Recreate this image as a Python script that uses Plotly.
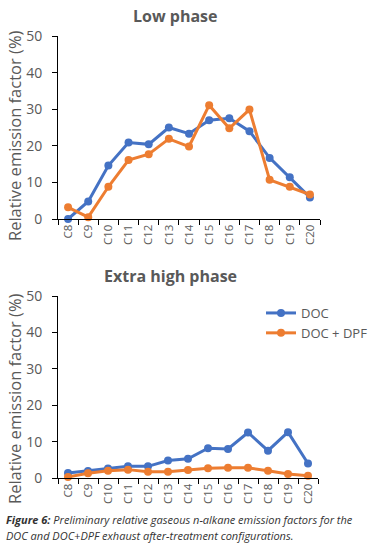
import plotly.graph_objects as go

categories = ["C8", "C9", "C10", "C11", "C12", "C13", "C14", "C15", "C16", "C17", "C18", "C19", "C20"]
low_doc = [0.0, 4.8, 14.6, 20.9, 20.4, 25.0, 23.3, 27.0, 27.5, 24.0, 16.7, 11.4, 5.9]
low_dpf = [3.2, 0.5, 8.8, 16.1, 17.7, 21.9, 19.8, 31.1, 24.8, 29.9, 10.7, 8.8, 6.7]
xh_doc = [1.4, 1.9, 2.6, 3.2, 3.2, 4.8, 5.3, 8.2, 8.0, 12.5, 7.5, 12.6, 4.0]
xh_dpf = [0.3, 1.3, 2.0, 2.3, 1.7, 1.7, 2.2, 2.7, 2.8, 2.8, 2.0, 1.1, 0.6]
y_ticks = [0, 10, 20, 30, 40, 50]

BLUE = "#4472C4"
ORANGE = "#ED7D31"
GREY = "#595959"
FONT = "Open Sans"

W, H = 382, 550

fig = go.Figure()

def add(x_ax, y_ax, vals, name, color, show):
    fig.add_trace(go.Scatter(
        x=categories, y=vals, name=name, mode="lines+markers",
        line=dict(color=color, width=3), marker=dict(color=color, size=8),
        xaxis=x_ax, yaxis=y_ax, showlegend=show, cliponaxis=False,
    ))

add("x", "y", low_doc, "DOC", BLUE, False)
add("x", "y", low_dpf, "DOC + DPF", ORANGE, False)
add("x2", "y2", xh_doc, "DOC", BLUE, True)
add("x2", "y2", xh_dpf, "DOC + DPF", ORANGE, True)

def px_x(p):
    return p / W

def px_y(p):
    return 1 - p / H

xaxis_common = dict(
    type="category", range=[-0.5, 12.5], showgrid=False, showline=True,
    linecolor="#000000", linewidth=1, ticks="outside", tickson="boundaries",
    ticklen=5, tickcolor="#000000", tickangle=-90, automargin=False,
    tickfont=dict(family=FONT, size=11.5, color=GREY), zeroline=False,
)
yaxis_common = dict(
    range=[0, 50], tickvals=y_ticks, showgrid=False, showline=True,
    linecolor="#000000", linewidth=1, ticks="outside", ticklen=5,
    tickcolor="#000000", tickfont=dict(family=FONT, size=14, color=GREY),
    zeroline=False, automargin=False, ticklabelstandoff=7,
)

fig.update_layout(
    width=W, height=H,
    margin=dict(l=0, r=0, t=0, b=0),
    paper_bgcolor="white", plot_bgcolor="white",
    xaxis=dict(domain=[px_x(58), px_x(320)], anchor="y", **xaxis_common),
    yaxis=dict(domain=[px_y(219), px_y(36)], anchor="x", **yaxis_common),
    xaxis2=dict(domain=[px_x(58), px_x(318)], anchor="y2", **xaxis_common),
    yaxis2=dict(domain=[px_y(478), px_y(296)], anchor="x2", **yaxis_common),
    legend=dict(
        x=px_x(261), y=px_y(298), xanchor="left", yanchor="top",
        font=dict(family=FONT, size=13, color=GREY), bgcolor="rgba(0,0,0,0)",
        tracegroupgap=0,
    ),
    showlegend=True,
)

ytitle = "Relative emission factor (%)"
annotations = [
    dict(text="<b>Low phase</b>", x=px_x(175), y=px_y(16), xref="paper", yref="paper",
         showarrow=False, font=dict(family=FONT, size=16, color=GREY), xanchor="center", yanchor="middle"),
    dict(text="<b>Extra high phase</b>", x=px_x(170), y=px_y(276), xref="paper", yref="paper",
         showarrow=False, font=dict(family=FONT, size=16, color=GREY), xanchor="center", yanchor="middle"),
    dict(text=ytitle, x=px_x(14), y=px_y(136), xref="paper", yref="paper", textangle=-90,
         showarrow=False, font=dict(family=FONT, size=16.5, color=GREY), xanchor="center", yanchor="middle"),
    dict(text=ytitle, x=px_x(14), y=px_y(399), xref="paper", yref="paper", textangle=-90,
         showarrow=False, font=dict(family=FONT, size=16.5, color=GREY), xanchor="center", yanchor="middle"),
    dict(text="<b><i>Figure 6:</i></b><i> Preliminary relative gaseous n-alkane emission factors for the</i>",
         x=px_x(4), y=px_y(519), xref="paper", yref="paper", showarrow=False,
         font=dict(family=FONT, size=11, color="#333333"), xanchor="left", yanchor="middle"),
    dict(text="<i>DOC and DOC+DPF exhaust after-treatment configurations.</i>",
         x=px_x(4), y=px_y(535), xref="paper", yref="paper", showarrow=False,
         font=dict(family=FONT, size=11, color="#333333"), xanchor="left", yanchor="middle"),
]
fig.update_layout(annotations=annotations)

fig.write_html("out.html", config={"displayModeBar": False},
               post_script="document.body.style.margin='0';document.body.style.padding='0';")
